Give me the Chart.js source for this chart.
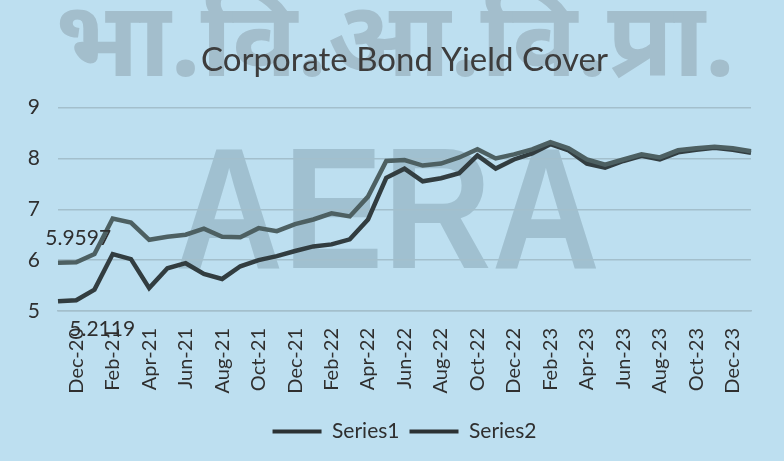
<!DOCTYPE html>
<html>
<head>
<meta charset="utf-8">
<title>Corporate Bond Yield Cover</title>
<script src="https://cdn.jsdelivr.net/npm/chart.js@4.4.1/dist/chart.umd.min.js"></script>
<style>
  html, body { margin: 0; padding: 0; background: #bddff0; }
  #wrap { position: relative; width: 784px; height: 461px; }
</style>
</head>
<body>
<div id="wrap"><canvas id="chart"></canvas></div>
<script>
// monthly categories, Nov-20 .. Jan-24 (only every other one gets a tick label)
const months = [
  'Nov-20', 'Dec-20', 'Jan-21', 'Feb-21', 'Mar-21', 'Apr-21', 'May-21', 'Jun-21',
  'Jul-21', 'Aug-21', 'Sep-21', 'Oct-21', 'Nov-21', 'Dec-21', 'Jan-22', 'Feb-22',
  'Mar-22', 'Apr-22', 'May-22', 'Jun-22', 'Jul-22', 'Aug-22', 'Sep-22', 'Oct-22',
  'Nov-22', 'Dec-22', 'Jan-23', 'Feb-23', 'Mar-23', 'Apr-23', 'May-23', 'Jun-23',
  'Jul-23', 'Aug-23', 'Sep-23', 'Oct-23', 'Nov-23', 'Dec-23', 'Jan-24'
];

const series1 = [
  5.95, 5.9597, 6.12, 6.82, 6.74, 6.40, 6.46, 6.50,
  6.62, 6.46, 6.45, 6.63, 6.57, 6.71, 6.80, 6.92,
  6.86, 7.25, 7.95, 7.97, 7.86, 7.90, 8.02, 8.18,
  8.00, 8.08, 8.18, 8.32, 8.20, 7.98, 7.88, 7.98,
  8.08, 8.02, 8.16, 8.20, 8.23, 8.20, 8.14
];

const series2 = [
  5.19, 5.2119, 5.42, 6.12, 6.02, 5.45, 5.84, 5.94,
  5.73, 5.63, 5.88, 6.00, 6.08, 6.18, 6.27, 6.31,
  6.41, 6.80, 7.62, 7.80, 7.55, 7.61, 7.71, 8.06,
  7.80, 7.98, 8.10, 8.28, 8.16, 7.90, 7.82, 7.95,
  8.05, 7.98, 8.12, 8.17, 8.21, 8.17, 8.11
];

const seriesNames = ['Series1', 'Series2'];
const yTicks = [5, 6, 7, 8, 9];

const chartTitle = 'Corporate Bond Yield Cover';
const markHindi = 'भा.वि.आ.वि.प्रा.';
const markLatin = 'AERA';

const bg = '#bddff0';
const gridColor = '#a3bfcc';
const textColor = '#2f2f2f';
const FONT = 'Lato, "Open Sans", sans-serif';

// page background + the two faint watermarks behind everything
// (solid fills, so overlapping glyph parts don't darken)
const backdrop = {
  id: 'backdrop',
  beforeDraw(chart) {
    const { ctx, width, height } = chart;
    ctx.save();
    ctx.fillStyle = bg;
    ctx.fillRect(0, 0, width, height);

    ctx.fillStyle = 'rgb(163, 190, 204)';
    ctx.textBaseline = 'alphabetic';
    ctx.textAlign = 'left';

    ctx.font = 'bold 104px "Noto Sans", "DejaVu Sans", sans-serif';
    let w = ctx.measureText(markHindi).width;
    ctx.save();
    ctx.translate(55, 76);
    ctx.scale(680 / w, 1);
    ctx.fillText(markHindi, 0, 0);
    ctx.restore();

    ctx.fillStyle = 'rgb(160, 192, 208)';
    ctx.font = 'bold 172px "Liberation Sans", Arial, sans-serif';
    w = ctx.measureText(markLatin).width;
    ctx.save();
    ctx.translate(175, 268);
    ctx.scale(425 / w, 1);
    ctx.fillText(markLatin, 0, 0);
    ctx.restore();
    ctx.restore();
  }
};

// value labels on the Dec-20 points
const valueLabels = {
  id: 'valueLabels',
  afterDatasetsDraw(chart) {
    const { ctx } = chart;
    const spots = [
      { ds: 0, idx: 1, dx: 2, dy: -24 },
      { ds: 1, idx: 1, dx: 26, dy: 29 }
    ];
    ctx.save();
    ctx.font = '21px ' + FONT;
    ctx.fillStyle = textColor;
    ctx.textAlign = 'center';
    ctx.textBaseline = 'middle';
    spots.forEach(s => {
      const pt = chart.getDatasetMeta(s.ds).data[s.idx];
      const val = chart.data.datasets[s.ds].data[s.idx];
      ctx.fillText(String(val), pt.x + s.dx, pt.y + s.dy);
    });
    ctx.restore();
  }
};

const ctx = document.getElementById('chart').getContext('2d');
new Chart(ctx, {
  type: 'line',
  data: {
    labels: months,
    datasets: [{
      label: seriesNames[0],
      data: series1,
      borderColor: '#4d6062',
      backgroundColor: '#2c3234',
      borderWidth: 4.5,
      pointRadius: 0,
      tension: 0
    }, {
      label: seriesNames[1],
      data: series2,
      borderColor: '#323d40',
      backgroundColor: '#2c3234',
      borderWidth: 4.5,
      pointRadius: 0,
      tension: 0
    }]
  },
  options: {
    responsive: true,
    maintainAspectRatio: false,
    devicePixelRatio: 1,
    animation: false,
    layout: {
      padding: { left: 0, right: 22, top: 0, bottom: 9 }
    },
    plugins: {
      title: {
        display: true,
        fullSize: false,
        text: chartTitle,
        color: '#3d3d3d',
        font: { family: FONT, size: 33, weight: 'normal' },
        padding: { top: 41, bottom: 27 }
      },
      legend: {
        position: 'bottom',
        fullSize: false,
        labels: {
          color: textColor,
          font: { family: FONT, size: 21 },
          boxWidth: 49,
          boxHeight: 4,
          padding: 10,
          generateLabels: (chart) => {
            const items = Chart.defaults.plugins.legend.labels.generateLabels(chart);
            items.forEach(it => { it.lineWidth = 0; });
            return items;
          }
        }
      },
      tooltip: { enabled: false }
    },
    scales: {
      x: {
        grid: { display: false },
        border: { display: true, color: gridColor, width: 1.5 },
        ticks: {
          autoSkip: false,
          maxRotation: 90,
          minRotation: 90,
          padding: 9,
          color: textColor,
          font: { family: FONT, size: 20 },
          callback: (val, i) => (i % 2 === 1 ? months[i] : '')
        },
        afterFit: (scale) => { scale.height = 100; }
      },
      y: {
        min: yTicks[0],
        max: yTicks[yTicks.length - 1],
        grid: { color: gridColor, lineWidth: 1.5, drawTicks: false },
        border: { display: false },
        ticks: {
          stepSize: 1,
          padding: 18,
          color: textColor,
          font: { family: FONT, size: 21 }
        },
        afterFit: (scale) => { scale.width = 58; }
      }
    }
  },
  plugins: [backdrop, valueLabels]
});
</script>
</body>
</html>
